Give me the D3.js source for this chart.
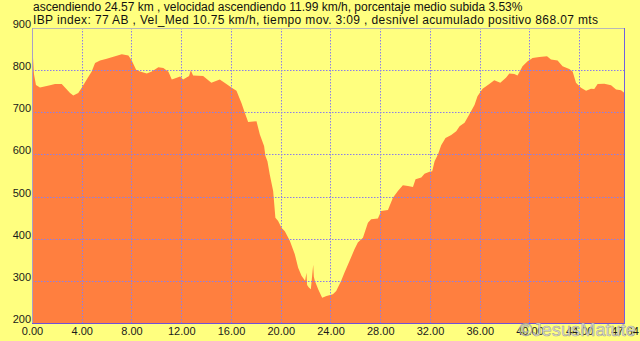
<!DOCTYPE html>
<html>
<head>
<meta charset="utf-8">
<script src="https://cdn.jsdelivr.net/npm/d3@7"></script>
<style>
html,body{margin:0;padding:0;background:#FFFF7F;}
svg{display:block;}
text{font-family:"Liberation Sans",Arial,sans-serif;}
</style>
</head>
<body>
<svg id="chart" width="640" height="341"></svg>
<script>
// distance (km) and elevation (m) read from the profile
const distKm = [0,0.08,0.16,0.32,0.64,1.45,1.85,2.39,2.65,3.06,3.32,3.72,4.00,4.40,4.80,5.07,5.47,6.01,6.68,7.22,7.75,8.02,8.37,8.69,9.23,9.63,10.16,10.56,10.97,11.24,11.64,11.91,12.15,12.63,12.77,12.95,13.76,14.42,15.10,15.63,16.03,16.44,16.84,17.11,17.38,18.05,18.32,18.66,18.77,18.93,19.12,19.39,19.57,19.79,20.06,20.33,20.73,21.13,21.40,21.67,21.96,22.07,22.12,22.26,22.42,22.61,22.66,22.74,23.01,23.33,23.68,24.19,24.46,24.86,25.12,25.53,25.93,26.20,26.61,27.01,27.27,27.81,28.08,28.62,29.02,29.42,29.82,30.23,30.63,30.84,31.30,31.56,31.96,32.18,32.37,32.64,32.90,33.25,33.71,34.11,34.38,34.78,35.18,35.58,35.82,36.23,36.77,37.17,37.65,38.11,38.38,38.78,39.04,39.44,39.85,40.25,40.79,41.41,41.73,42.26,42.66,43.20,43.47,43.74,44.14,44.55,44.95,45.21,45.48,46.02,46.56,46.96,47.36,47.64];
const elevM = [855,830,790,765,759,764,767,767,759,746,740,746,758,778,797,817,823,827,833,838,835,823,801,797,792,797,807,805,796,778,782,785,778,786,800,787,786,770,778,767,759,751,722,699,677,679,647,620,596,584,552,513,450,442,426,418,395,363,331,312,300,319,290,284,280,338,310,300,280,260,264,268,276,300,319,347,375,391,402,438,446,448,466,468,497,513,527,525,523,541,545,554,559,560,584,600,622,639,646,655,667,675,696,717,738,756,767,776,770,782,792,791,787,809,821,829,831,833,825,823,809,803,797,770,758,751,756,755,767,768,764,754,752,746];
const xTickValues = [0,4,8,12,16,20,24,28,32,36,40,44,47.64];
const yTickValues = [200,300,400,500,600,700,800,900];
const titleLine1 = "ascendiendo 24.57 km , velocidad ascendiendo 11.99 km/h, porcentaje medio subida 3.53%";
const titleLine2 = "IBP index: 77 AB , Vel_Med 10.75 km/h, tiempo mov. 3:09 , desnivel acumulado positivo 868.07 mts";
const watermark = "\u00A9JesusMatute";

const svg = d3.select("#chart");
const L = 32, R = 624.5, T = 28, B = 323;
const x = d3.scaleLinear().domain([0, 47.64]).range([L, R]);
const y = d3.scaleLinear().domain([200, 900]).range([B, T]);

svg.append("rect").attr("width",640).attr("height",341).attr("fill","#FFFF7F");

const data = distKm.map((d,i)=>({d, e: elevM[i]}));
svg.append("path").datum(data)
  .attr("fill","#FF7F3F")
  .attr("d", d3.area().x(p=>x(p.d)).y0(y(200)).y1(p=>y(p.e)));

// grid
const g = svg.append("g");
yTickValues.filter(v=>v>200 && v<900).forEach(v=>{
  g.append("line").attr("x1",L).attr("x2",R).attr("y1",Math.round(y(v))+0.5).attr("y2",Math.round(y(v))+0.5)
   .attr("stroke","#8A7FE8").attr("stroke-width",1).attr("stroke-dasharray","1.5,1.5");
});
xTickValues.filter(v=>v>0 && v<47).forEach(v=>{
  g.append("line").attr("y1",T).attr("y2",B).attr("x1",Math.round(x(v))+0.5).attr("x2",Math.round(x(v))+0.5)
   .attr("stroke","#8A7FE8").attr("stroke-width",1).attr("stroke-dasharray","1.5,1.5");
});

// borders
svg.append("line").attr("x1",L).attr("x2",R).attr("y1",T+0.5).attr("y2",T+0.5).attr("stroke","#B8B8B8");
svg.append("line").attr("x1",L+0.5).attr("x2",L+0.5).attr("y1",T).attr("y2",B).attr("stroke","#A8A0C8");
svg.append("line").attr("x1",L).attr("x2",R+0.5).attr("y1",B+0.5).attr("y2",B+0.5).attr("stroke","#7050D8");
svg.append("line").attr("x1",R).attr("x2",R).attr("y1",T).attr("y2",B+1).attr("stroke","#7060E0");

// axes labels
const yAxis = d3.axisLeft(y).tickValues(yTickValues).tickSize(0).tickPadding(1).tickFormat(d3.format("d"));
const ya = svg.append("g").attr("transform",`translate(${L},0)`).call(yAxis);
ya.select(".domain").remove();
ya.selectAll("text").attr("font-size",11).attr("fill","#1a1a1a").attr("dy","-0.05em")
  .attr("font-family","'Liberation Sans',Arial,sans-serif");

const xAxis = d3.axisBottom(x).tickValues(xTickValues).tickSize(0).tickPadding(4).tickFormat(d3.format(".2f"));
const xa = svg.append("g").attr("transform",`translate(0,${B})`).call(xAxis);
xa.select(".domain").remove();
xa.selectAll("text").attr("font-size",11).attr("fill","#1a1a1a")
  .attr("font-family","'Liberation Sans',Arial,sans-serif");

// title
svg.append("text").attr("x",33).attr("y",11).attr("font-size",12).attr("fill","#111").text(titleLine1);
svg.append("text").attr("x",33).attr("y",24).attr("font-size",12).attr("fill","#111")
  .attr("textLength",565).attr("lengthAdjust","spacing").text(titleLine2);

// watermark
svg.append("text").attr("x",519).attr("y",336).attr("font-size",19)
  .attr("fill","#dcdcdc").attr("fill-opacity",0.9).attr("stroke","#8c8c8c").attr("stroke-opacity",0.75).attr("stroke-width",0.6)
  .attr("textLength",117).attr("lengthAdjust","spacingAndGlyphs")
  .text(watermark);
</script>
</body>
</html>
